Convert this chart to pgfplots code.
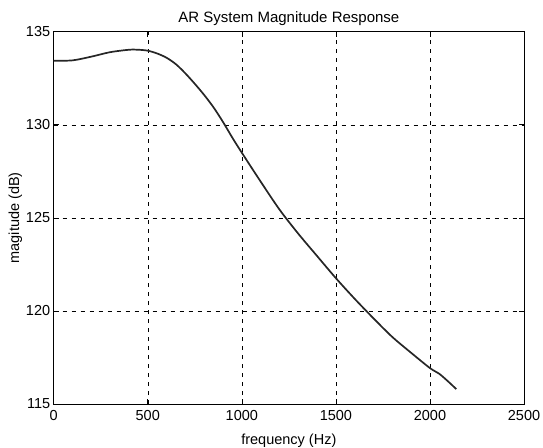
\documentclass[border=0pt]{standalone}
\usepackage{pgfplots}
\pgfplotsset{compat=1.18}
\usepackage{fontspec}
\setmainfont{Liberation Sans}
\begin{document}
\begin{tikzpicture}
\path[use as bounding box] (-53.7pt,-43pt) rectangle (489.3pt,404pt);
\begin{axis}[
  scale only axis,
  width=470.3pt, height=372.3pt,
  xmin=0, xmax=2500, ymin=115, ymax=135,
  xtick={0,500,1000,1500,2000,2500},
  ytick={115,120,125,130,135},
  grid=major,
  major grid style={black, dash pattern=on 4pt off 5pt, line width=0.5pt},
  axis line style={black, line width=0.6pt},
  tick align=inside,
  major tick length=5pt,
  tick style={black, line width=0.6pt},
  /pgf/number format/assume math mode=true,
  /pgf/number format/1000 sep={},
  tick label style={font=\fontsize{14.5}{16}\selectfont},
  xticklabel style={yshift=-3pt},
  yticklabel style={xshift=0pt},
  label style={font=\fontsize{14.5}{16}\selectfont},
  title style={font=\fontsize{15}{17}\selectfont, yshift=-3pt},
  title={AR System Magnitude Response},
  xlabel={frequency (Hz)},
  ylabel={magitude (dB)},
  xlabel style={yshift=-6pt},
  ylabel style={yshift=-3pt},
]
\addplot[color=black!85, line width=1.7pt, smooth, tension=0.5] coordinates {
(0,133.44) (100,133.46) (200,133.66) (300,133.90) (400,134.03) (450,134.03)
(500,133.98) (550,133.83) (600,133.60) (650,133.25) (700,132.76) (750,132.20)
(800,131.60) (850,130.93) (900,130.15) (950,129.30) (1000,128.50) (1100,126.95)
(1200,125.45) (1300,124.15) (1400,122.95) (1500,121.76) (1600,120.65)
(1700,119.60) (1800,118.60) (1900,117.75) (2000,116.93) (2050,116.62)
(2100,116.18) (2140,115.80)
};
\end{axis}
\end{tikzpicture}
\end{document}
